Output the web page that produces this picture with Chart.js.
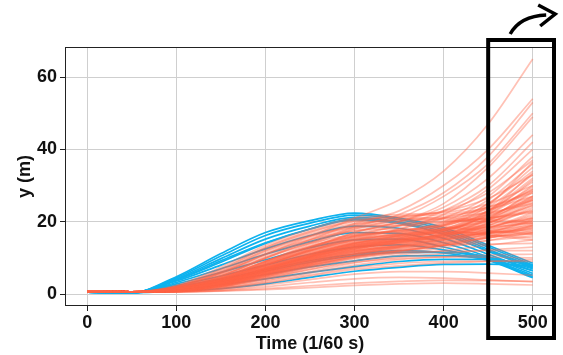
<!DOCTYPE html>
<html><head><meta charset="utf-8">
<script src="https://cdn.jsdelivr.net/npm/chart.js@4/dist/chart.umd.min.js"></script>
<style>html,body{margin:0;padding:0;background:#fff}#wrap{width:563px;height:355px}</style>
</head><body><div id="wrap"><canvas id="c" width="563" height="355"></canvas></div>
<script>
// x sample positions (frames, 1/60 s)
const times = [0, 50, 100, 150, 200, 250, 300, 350, 400, 450, 500];
const xTicks = [0, 100, 200, 300, 400, 500];
const yTicks = [0, 20, 40, 60];
const xLabel = 'Time (1/60 s)';
const yLabel = 'y (m)';

// red (salmon) trajectories, values at times[]
const redSeries = [
  [0.7,0.6,2.0,6.0,11.0,16.0,21.0,26.0,34.0,47.0,65.0],
  [0.7,0.6,1.8,5.0,10.0,15.0,19.5,23.0,30.0,40.0,54.0],
  [0.7,0.6,1.5,4.5,9.0,14.0,18.5,22.0,28.0,38.0,53.0],
  [0.7,0.6,1.6,4.5,9.0,13.5,18.0,21.0,27.0,36.0,50.0],
  [0.7,0.6,1.4,4.0,8.0,12.5,17.0,20.0,25.0,35.0,49.0],
  [0.7,0.6,1.5,4.2,8.5,13.0,17.0,20.0,24.0,32.0,44.0],
  [0.7,0.6,1.3,3.8,8.0,12.0,16.0,19.0,23.0,30.0,42.0],
  [0.7,0.6,1.2,3.5,7.5,11.5,15.0,18.0,22.0,29.0,40.0],
  [0.7,0.6,1.4,4.0,8.0,12.0,15.5,18.0,21.0,27.0,38.0],
  [0.7,0.6,1.1,3.2,7.0,11.0,14.5,17.0,20.0,26.0,36.0],
  [0.7,0.6,1.3,3.6,7.5,11.0,14.0,16.0,19.0,25.0,35.0],
  [0.7,0.6,1.0,3.0,6.5,10.5,14.0,16.5,19.5,25.0,34.0],
  [0.7,0.6,1.2,3.3,7.0,10.5,13.5,15.5,18.5,24.0,33.0],
  [0.7,0.6,1.1,3.1,6.5,10.0,13.0,15.0,18.0,23.0,32.0],
  [0.7,0.6,1.5,4.5,9.0,13.0,16.0,17.5,19.0,23.0,31.0],
  [0.7,0.6,1.0,2.8,6.0,9.5,12.5,14.5,17.0,22.0,30.0],
  [0.7,0.6,1.2,3.4,7.2,10.8,13.8,15.5,17.5,22.0,29.0],
  [0.7,0.6,0.9,2.5,5.5,9.0,12.0,14.0,16.5,21.0,28.0],
  [0.7,0.6,1.3,3.8,8.0,12.0,15.0,16.5,18.0,21.5,27.0],
  [0.7,0.6,1.0,2.7,5.8,9.0,11.8,13.5,15.5,20.0,26.0],
  [0.7,0.6,1.1,3.0,6.3,9.5,12.3,14.0,16.0,19.5,25.0],
  [0.7,0.6,0.9,2.4,5.2,8.2,11.0,13.0,15.0,19.0,24.0],
  [0.7,0.6,1.4,4.0,8.5,12.5,15.5,17.0,18.0,20.0,23.0],
  [0.7,0.6,1.0,2.6,5.5,8.5,11.0,12.5,14.5,18.0,22.0],
  [0.7,0.6,0.8,2.2,4.8,7.8,10.5,12.0,14.0,17.5,21.0],
  [0.7,0.6,1.2,3.2,6.8,10.0,12.8,14.0,15.0,17.0,20.0],
  [0.7,0.6,0.9,2.3,5.0,8.0,10.5,12.0,13.5,16.0,19.0],
  [0.7,0.6,1.3,3.5,7.2,10.5,13.5,15.0,15.8,16.8,18.0],
  [0.7,0.6,0.8,2.0,4.5,7.2,9.8,11.3,12.8,14.8,17.0],
  [0.7,0.6,1.0,2.6,5.5,8.5,11.0,12.5,13.5,14.8,16.0],
  [0.7,0.6,0.8,2.0,4.2,6.8,9.2,10.8,12.0,13.5,15.0],
  [0.7,0.6,1.1,3.0,6.2,9.5,12.0,13.2,13.6,13.8,14.0],
  [0.7,0.6,0.7,1.8,3.8,6.2,8.6,10.2,11.2,12.2,13.0],
  [0.7,0.6,0.9,2.3,5.0,7.8,10.2,11.4,11.8,12.0,12.0],
  [0.7,0.6,0.7,1.6,3.5,5.8,8.0,9.5,10.3,10.8,11.0],
  [0.7,0.6,0.8,2.0,4.2,6.8,8.8,9.8,10.2,10.2,10.0],
  [0.7,0.6,0.7,1.5,3.2,5.3,7.3,8.5,9.0,9.1,9.0],
  [0.7,0.6,0.7,1.4,3.0,5.0,6.8,7.8,8.6,9.0,9.5],
  [0.7,0.6,0.6,1.2,2.5,4.0,5.5,6.2,6.2,5.8,5.2],
  [0.7,0.6,0.6,1.0,2.0,3.2,4.2,4.6,4.4,3.9,3.4],
  [0.7,0.6,0.6,0.9,1.5,2.3,3.0,3.5,3.8,3.7,3.5],
  [0.7,0.5,0.6,0.8,1.2,1.8,2.4,2.8,3.0,2.8,2.5],
  [0.7,0.6,1.2,3.4,7.0,10.5,13.5,15.5,18.0,22.5,29.5],
  [0.7,0.6,1.0,2.8,6.0,9.0,11.5,13.5,16.0,20.5,27.0],
  [0.7,0.6,1.1,3.1,6.6,10.0,13.0,15.0,17.5,21.5,26.5],
  [0.7,0.6,0.9,2.4,5.2,8.2,11.0,13.0,15.5,19.5,25.5],
  [0.7,0.6,1.3,3.6,7.6,11.2,14.2,16.0,17.8,20.5,24.5],
  [0.7,0.6,1.0,2.7,5.8,8.8,11.5,13.2,15.0,18.2,22.5],
  [0.7,0.6,1.2,3.3,6.9,10.3,13.2,14.8,16.2,18.5,21.5],
  [0.7,0.6,0.8,2.1,4.6,7.4,10.0,11.8,13.6,16.8,20.5],
  [0.7,0.6,1.1,2.9,6.2,9.2,11.8,13.2,14.5,16.5,19.5],
  [0.7,0.6,0.9,2.4,5.2,8.0,10.5,12.0,13.4,15.5,18.5],
  [0.7,0.6,1.4,4.0,8.3,12.2,15.2,16.5,17.0,17.2,17.5],
  [0.7,0.6,1.0,2.6,5.6,8.6,11.2,12.8,14.0,15.5,17.5],
  [0.7,0.6,0.8,2.2,4.8,7.6,10.2,11.8,13.3,15.8,19.0],
  [0.7,0.6,1.1,3.0,6.4,9.8,12.6,14.4,16.5,20.8,28.5],
  [0.7,0.6,1.2,3.2,6.8,10.2,13.0,15.0,17.5,23.0,33.5],
  [0.7,0.6,1.3,3.5,7.3,11.0,14.0,16.2,19.0,24.5,36.5],
  [0.7,0.6,1.0,2.8,6.0,9.3,12.3,14.5,17.0,22.5,31.5],
  [0.7,0.6,1.5,4.3,8.8,13.0,16.5,18.8,21.0,24.0,28.5],
  [0.7,0.6,1.6,5.0,10.0,14.5,18.0,19.5,20.0,21.0,23.0],
  [0.7,0.6,1.8,5.5,11.0,15.5,19.0,20.5,21.5,23.5,27.0],
  [0.7,0.6,2.0,6.5,12.5,17.0,20.0,21.0,21.0,20.5,20.0],
  [0.7,0.6,1.9,6.0,12.0,16.5,19.5,20.5,20.5,20.0,19.5],
  [0.7,0.6,1.7,5.2,10.5,15.0,18.5,20.0,21.0,22.5,25.0],
  [0.7,0.6,2.2,7.0,13.0,17.5,20.5,21.5,22.0,24.0,28.0],
  [0.7,0.6,1.5,4.8,9.8,14.2,17.5,19.0,19.8,21.0,22.5],
  [0.7,0.6,2.0,6.2,12.0,16.0,18.5,19.0,18.5,17.5,16.5],
  [0.7,0.6,1.8,5.6,11.0,15.0,17.5,18.0,17.5,16.5,15.5],
  [0.7,0.6,1.6,5.0,10.0,14.0,16.5,17.5,18.0,19.0,21.0],
  [0.7,0.6,1.4,4.4,9.0,13.0,16.0,17.5,19.0,22.0,26.0],
  [0.7,0.6,1.3,4.0,8.2,12.0,15.0,16.5,17.5,18.5,19.5],
  [0.7,0.6,1.5,4.6,9.2,13.2,16.2,17.2,17.0,16.2,15.0],
  [0.7,0.6,1.2,3.8,7.8,11.5,14.5,16.0,17.0,18.5,21.0],
  [0.7,0.6,1.2,3.6,7.4,11.0,14.0,15.5,16.5,18.0,20.0],
  [0.7,0.6,1.1,3.4,7.0,10.5,13.5,15.2,16.2,17.5,19.0],
  [0.7,0.6,1.0,3.0,6.4,9.8,12.8,14.5,15.6,17.0,18.5],
  [0.7,0.6,1.3,3.9,8.0,11.8,14.8,16.2,16.8,17.0,17.0],
  [0.7,0.6,1.1,3.2,6.8,10.2,13.0,14.6,15.6,16.8,18.0],
  [0.7,0.6,2.4,7.5,13.5,18.0,21.0,22.0,22.5,25.0,30.0],
  [0.7,0.6,2.1,6.8,12.8,17.2,20.2,21.5,22.8,26.5,33.0],
  [0.7,0.6,1.9,5.8,11.5,16.0,19.2,21.0,23.0,28.0,37.0],
  [0.7,0.6,1.0,2.9,6.2,9.6,12.6,14.2,15.2,16.0,16.5],
  [0.7,0.6,0.9,2.6,5.6,8.8,11.8,13.6,15.0,17.2,20.5],
  [0.7,0.6,1.0,2.8,6.0,9.4,12.4,14.3,16.0,19.0,23.5],
  [0.7,0.6,1.2,3.5,7.2,10.8,13.9,15.8,17.6,21.0,26.0],
  [0.7,0.6,1.4,4.2,8.6,12.6,15.8,17.6,19.4,23.0,29.0],
  [0.7,0.6,0.9,2.5,5.4,8.5,11.4,13.0,14.2,15.6,17.0],
  [0.7,0.6,1.1,3.3,6.9,10.4,13.4,15.0,16.4,19.6,24.5],
  [0.7,0.6,1.0,3.1,6.6,10.0,13.0,14.8,16.6,20.4,26.5]
];

// blue trajectories, values at times[]
const blueSeries = [
  [0.5,0.4,4.8,11.2,17.0,20.3,22.4,21.0,18.4,13.5,8.5],
  [0.5,0.4,4.5,10.5,16.2,19.6,21.8,20.6,17.8,13.0,8.0],
  [0.5,0.4,4.2,9.8,15.2,18.8,21.2,20.0,17.2,12.4,7.5],
  [0.5,0.4,4.0,9.2,14.2,18.0,20.5,19.5,16.6,11.8,7.2],
  [0.5,0.4,3.9,8.8,14.0,18.0,20.8,19.8,16.5,12.0,7.8],
  [0.5,0.4,3.6,8.0,12.5,16.2,18.8,18.2,15.4,11.0,6.4],
  [0.5,0.4,3.2,7.0,11.0,14.5,17.0,16.8,14.2,10.3,5.7],
  [0.5,0.4,2.8,6.0,9.5,12.8,15.0,15.2,13.0,9.8,5.2],
  [0.5,0.4,2.4,5.0,8.0,11.0,13.0,13.6,12.2,9.5,4.8],
  [0.5,0.4,2.0,4.2,6.7,9.2,11.0,12.0,11.4,9.3,4.5],
  [0.5,0.4,1.6,3.4,5.4,7.5,9.2,10.5,10.6,9.6,6.5],
  [0.5,0.4,1.9,4.0,6.3,8.8,10.6,11.5,11.5,10.3,7.0],
  [0.5,0.4,1.2,2.6,4.2,6.0,7.6,9.0,9.6,9.6,8.0],
  [0.5,0.4,0.8,1.5,2.8,4.6,6.3,7.4,8.2,8.3,7.8]
];

const RED = 'rgba(255,99,71,0.4)';
const BLUE = 'rgb(14,178,238)';

function toPoints(arr){ return arr.map((v,i)=>({x: times[i], y: v})); }

const datasets = [];
redSeries.forEach(s => datasets.push({data: toPoints(s), borderColor: RED, borderWidth: 1.7, order: 1}));
blueSeries.forEach(s => datasets.push({data: toPoints(s), borderColor: BLUE, borderWidth: 1.7, order: 2}));

const overlay = {
  id: 'overlay',
  afterDatasetsDraw(chart){
    const ctx = chart.ctx, a = chart.chartArea;
    ctx.save();
    ctx.strokeStyle = '#222';
    ctx.lineWidth = 1;
    ctx.strokeRect(a.left + 0.5, a.top + 0.5, a.right - a.left - 1, a.bottom - a.top - 1);
    ctx.restore();
  },
  afterDraw(chart){
    const ctx = chart.ctx, a = chart.chartArea;
    const xs = chart.scales.x;
    const left = xs.getPixelForValue(450);
    const right = a.right - 1;
    const top = a.top - 7;
    const bottom = a.bottom + 32;
    ctx.save();
    ctx.strokeStyle = '#000';
    ctx.lineWidth = 4;
    ctx.strokeRect(left, top, right - left, bottom - top);
    // curved arrow
    ctx.lineWidth = 3.5;
    ctx.lineCap = 'butt';
    ctx.beginPath();
    ctx.moveTo(left + 22, top - 6);
    ctx.quadraticCurveTo(left + 32, top - 24, left + 58, top - 25);
    ctx.stroke();
    ctx.beginPath();
    ctx.moveTo(left + 50, top - 35);
    ctx.lineTo(left + 67, top - 26);
    ctx.lineTo(left + 52, top - 14);
    ctx.stroke();
    ctx.restore();
  }
};

const tickFont = {family: "'Liberation Sans', Arial, sans-serif", size: 18, weight: 'bold'};

new Chart(document.getElementById('c'), {
  type: 'line',
  data: {datasets},
  options: {
    responsive: false,
    animation: false,
    events: [],
    layout: {padding: {left: 0, right: 8, top: 47, bottom: 0}},
    elements: {point: {radius: 0}, line: {cubicInterpolationMode: 'monotone', fill: false}},
    plugins: {legend: {display: false}, tooltip: {enabled: false}},
    scales: {
      x: {
        type: 'linear', min: -25, max: 525,
        afterBuildTicks: s => { s.ticks = xTicks.map(v => ({value: v})); },
        afterFit: s => { s.height = 49; },
        grid: {color: '#cfcfcf', lineWidth: 1, tickColor: '#222', tickLength: 5, drawOnChartArea: true},
        border: {display: false},
        ticks: {font: tickFont, color: '#111', padding: 1, maxRotation: 0, callback: v => String(v)},
        title: {display: true, text: xLabel, font: tickFont, color: '#111', padding: {top: 0, bottom: 0}}
      },
      y: {
        type: 'linear', min: -3.3, max: 68.3,
        afterBuildTicks: s => { s.ticks = yTicks.map(v => ({value: v})); },
        afterFit: s => { s.width = 65; },
        grid: {color: '#cfcfcf', lineWidth: 1, tickColor: '#222', tickLength: 5},
        border: {display: false},
        ticks: {font: tickFont, color: '#111', padding: 3, callback: v => String(v)},
        title: {display: true, text: yLabel, font: tickFont, color: '#111', padding: {top: 14, bottom: 0}}
      }
    }
  },
  plugins: [overlay]
});
</script>
</body></html>
